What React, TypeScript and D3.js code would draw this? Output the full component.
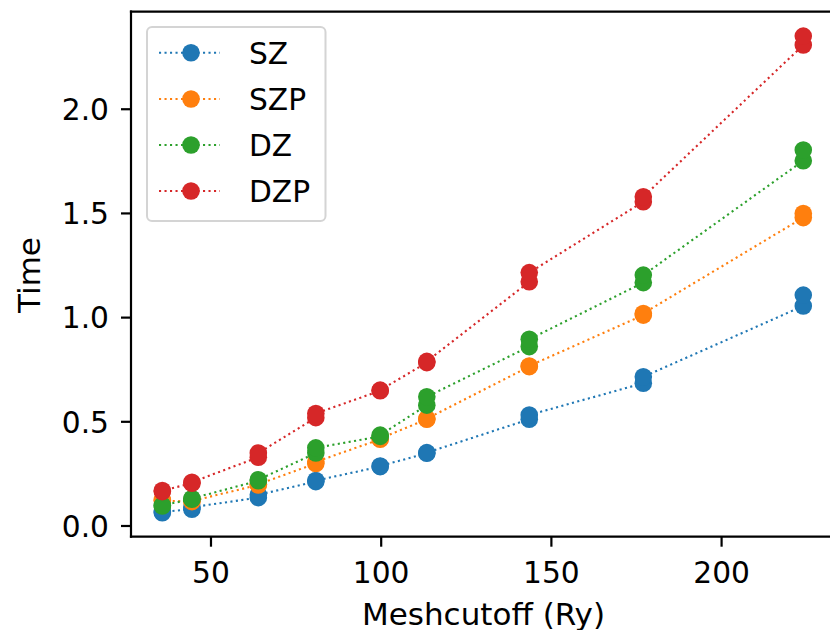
import React from "react";
import * as d3 from "d3";

const meshcutoff = [35.7, 44.4, 63.9, 80.8, 99.7, 113.4, 143.5, 177.0, 224.0];

const seriesNames = ["SZ", "SZP", "DZ", "DZP"];
const seriesColors = ["#1f77b4", "#ff7f0e", "#2ca02c", "#d62728"];

// two repeated runs per cutoff
const szTimes = [
  [0.064, 0.068], [0.080, 0.090], [0.136, 0.150], [0.213, 0.218], [0.285, 0.288],
  [0.349, 0.352], [0.512, 0.533], [0.685, 0.716], [1.056, 1.108],
];
const szpTimes = [
  [0.125, 0.122], [0.117, 0.120], [0.197, 0.200], [0.300, 0.308], [0.416, 0.420],
  [0.512, 0.515], [0.765, 0.768], [1.012, 1.020], [1.480, 1.500],
];
const dzTimes = [
  [0.096, 0.100], [0.128, 0.132], [0.217, 0.222], [0.350, 0.375], [0.430, 0.436],
  [0.580, 0.620], [0.861, 0.896], [1.168, 1.204], [1.753, 1.804],
];
const dzpTimes = [
  [0.165, 0.170], [0.205, 0.210], [0.330, 0.350], [0.520, 0.540], [0.649, 0.652],
  [0.784, 0.790], [1.172, 1.216], [1.556, 1.580], [2.308, 2.351],
];
const allSeries = [szTimes, szpTimes, dzTimes, dzpTimes];

const xTicks = [50, 100, 150, 200];
const yTicks = [0.0, 0.5, 1.0, 1.5, 2.0];

const W = 830;
const H = 630;
const left = 131;
const right = 834.6;
const top = 11.7;
const bottom = 536.7;
const font = "DejaVu Sans, sans-serif";
const fs = 29.7;
const labelFs = 31;

export default function App() {
  const x = d3.scaleLinear().domain([26.5, 233.2]).range([left, right]);
  const y = d3.scaleLinear().domain([-0.0514, 2.4681]).range([bottom, top]);
  const fmt = d3.format(".1f");

  const line = d3
    .line<[number, number]>()
    .x((d) => x(d[0]))
    .y((d) => y(d[1]));

  const pts = allSeries.map((s) => {
    const arr: [number, number][] = [];
    s.forEach((vals, i) => vals.forEach((v) => arr.push([meshcutoff[i], v])));
    return arr;
  });

  const legendRowY = [52.7, 99, 145, 191];

  return (
    <svg
      width={W}
      height={H}
      style={{ position: "absolute", left: 0, top: 0, background: "#fff" }}
      fontFamily={font}
    >
      <rect x={0} y={0} width={W} height={H} fill="#fff" />
      <defs>
        <clipPath id="plotclip">
          <rect x={left} y={top} width={right - left} height={bottom - top} />
        </clipPath>
      </defs>
      <g clipPath="url(#plotclip)">
        {pts.map((p, si) => (
          <g key={si}>
            <path
              d={line(p) || ""}
              fill="none"
              stroke={seriesColors[si]}
              strokeWidth={2.1}
              strokeDasharray="2.1,3.4"
            />
            {p.map((d, j) => (
              <circle key={j} cx={x(d[0])} cy={y(d[1])} r={8.8} fill={seriesColors[si]} />
            ))}
          </g>
        ))}
      </g>
      {/* spines */}
      <g stroke="#000" strokeWidth={2.2} fill="none" strokeLinecap="square">
        <line x1={left} y1={top} x2={left} y2={bottom} />
        <line x1={left} y1={bottom} x2={W + 5} y2={bottom} />
        <line x1={left} y1={top} x2={W + 5} y2={top} />
      </g>
      {/* x ticks */}
      {xTicks.map((t) => (
        <g key={t}>
          <line x1={x(t)} x2={x(t)} y1={bottom} y2={bottom + 10} stroke="#000" strokeWidth={2.2} />
          <text x={x(t)} y={583} textAnchor="middle" fontSize={fs} fill="#000">
            {t}
          </text>
        </g>
      ))}
      {/* y ticks */}
      {yTicks.map((t) => (
        <g key={t}>
          <line x1={left - 10} x2={left} y1={y(t)} y2={y(t)} stroke="#000" strokeWidth={2.2} />
          <text x={109} y={y(t) + 10.8} textAnchor="end" fontSize={fs} fill="#000">
            {fmt(t)}
          </text>
        </g>
      ))}
      <text x={483.5} y={624.5} textAnchor="middle" fontSize={labelFs} fill="#000">
        Meshcutoff (Ry)
      </text>
      <text
        transform={`translate(39.5,275) rotate(-90)`}
        textAnchor="middle"
        fontSize={labelFs}
        fill="#000"
      >
        Time
      </text>
      {/* legend */}
      <rect
        x={147}
        y={27}
        width={178.5}
        height={194}
        rx={5}
        ry={5}
        fill="#fff"
        fillOpacity={0.8}
        stroke="#d4d4d4"
        strokeWidth={2}
      />
      {seriesNames.map((n, i) => (
        <g key={n}>
          <line
            x1={159}
            x2={220}
            y1={legendRowY[i]}
            y2={legendRowY[i]}
            stroke={seriesColors[i]}
            strokeWidth={2.1}
            strokeDasharray="2.1,3.4"
          />
          <circle cx={191} cy={legendRowY[i]} r={8.8} fill={seriesColors[i]} />
          <text x={249} y={legendRowY[i] + 10.8} fontSize={fs} fill="#000">
            {n}
          </text>
        </g>
      ))}
    </svg>
  );
}
